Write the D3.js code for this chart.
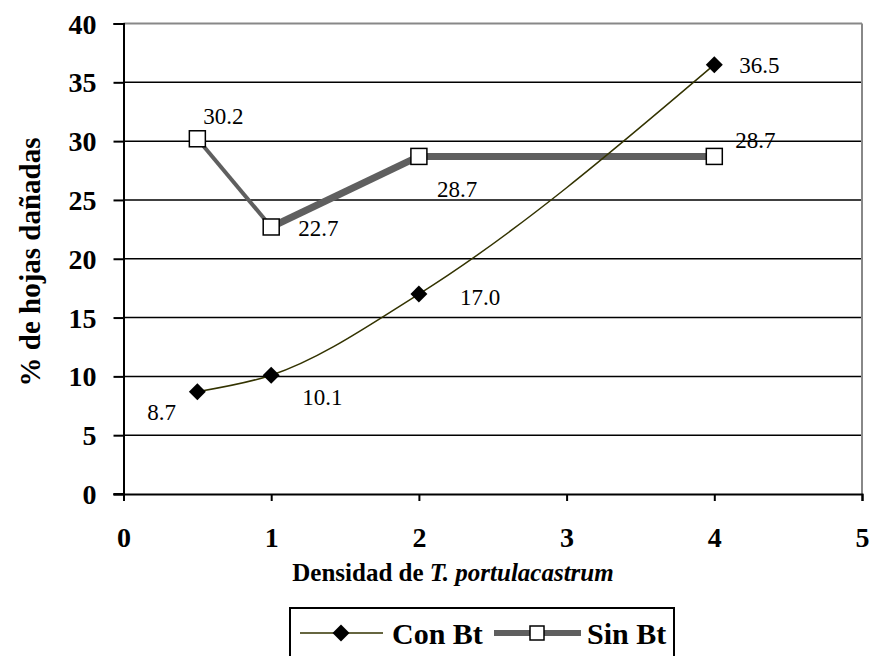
<!DOCTYPE html>
<html><head><meta charset="utf-8">
<script src="https://cdn.jsdelivr.net/npm/d3@7"></script>
<style>
body{margin:0;background:#fff;}
svg{display:block;}
svg text{font-family:"Liberation Serif","Times New Roman",serif !important;}
</style></head>
<body>
<svg id="c" width="873" height="656"></svg>
<script>
const densidad = [0.5, 1, 2, 4];
const conBt = [8.7, 10.1, 17.0, 36.5];
const sinBt = [30.2, 22.7, 28.7, 28.7];
const conBtLabels = ["8.7", "10.1", "17.0", "36.5"];
const sinBtLabels = ["30.2", "22.7", "28.7", "28.7"];
const xTicks = [0, 1, 2, 3, 4, 5];
const yTicks = [0, 5, 10, 15, 20, 25, 30, 35, 40];

const svg = d3.select("#c");
const x = d3.scaleLinear().domain([0, 5]).range([123.5, 862]);
const y = d3.scaleLinear().domain([0, 40]).range([494, 23.5]);

// gridlines
svg.append("g").selectAll("line").data(yTicks.filter(d => d > 0)).join("line")
  .attr("x1", x(0)).attr("x2", x(5)).attr("y1", d => y(d)).attr("y2", d => y(d))
  .attr("stroke", d => d === 40 ? "#888" : "#000").attr("stroke-width", d => d === 40 ? 2 : 1.5);
// right border
svg.append("line").attr("x1", x(5)).attr("x2", x(5)).attr("y1", y(40)).attr("y2", y(0))
  .attr("stroke", "#888").attr("stroke-width", 2);

// y axis
const yAxis = svg.append("g").attr("transform", `translate(${x(0)},0)`)
  .call(d3.axisLeft(y).tickValues(yTicks).tickSize(10).tickPadding(17).tickFormat(d3.format("d")));
yAxis.select(".domain").attr("stroke", "#000").attr("stroke-width", 2);
yAxis.selectAll(".tick line").attr("stroke", "#000").attr("stroke-width", 2);
yAxis.selectAll(".tick text").attr("fill", "#000")
  .attr("font-size", 28).attr("font-weight", "bold").attr("dy", "0.34em");

// x axis
const xAxis = svg.append("g").attr("transform", `translate(0,${y(0)})`)
  .call(d3.axisBottom(x).tickValues(xTicks).tickSize(7).tickPadding(26).tickFormat(d3.format("d")));
xAxis.select(".domain").attr("stroke", "#000").attr("stroke-width", 2);
xAxis.selectAll(".tick line").attr("stroke", "#000").attr("stroke-width", 2);
xAxis.selectAll(".tick text").attr("fill", "#000")
  .attr("font-size", 28).attr("font-weight", "bold");
svg.append("line").attr("x1", x(0) - 10).attr("x2", x(0)).attr("y1", y(0)).attr("y2", y(0))
  .attr("stroke", "#000").attr("stroke-width", 2);

// axis titles
const xt = svg.append("text").attr("x", 453).attr("y", 581).attr("text-anchor", "middle")
  .attr("font-size", 25).attr("font-weight", "bold").attr("fill", "#000");
xt.append("tspan").text("Densidad de ");
xt.append("tspan").attr("font-style", "italic").text("T. portulacastrum");

svg.append("text").attr("transform", "translate(40,262) rotate(-90)").attr("text-anchor", "middle")
  .attr("font-size", 29).attr("font-weight", "bold").attr("fill", "#000").text("% de hojas dañadas");

// Sin Bt series (segments)
const sinPts = densidad.map((d, i) => [x(d), y(sinBt[i])]);
const segW = [4, 7, 7];
svg.append("g").selectAll("line").data(d3.pairs(sinPts)).join("line")
  .attr("x1", d => d[0][0]).attr("y1", d => d[0][1]).attr("x2", d => d[1][0]).attr("y2", d => d[1][1])
  .attr("stroke", "#5f5f5f").attr("stroke-width", (d, i) => segW[i]);

// Con Bt series (smoothed)
const conPts = densidad.map((d, i) => [x(d), y(conBt[i])]);
svg.append("path").attr("d", d3.line().curve(d3.curveMonotoneX)(conPts))
  .attr("fill", "none").attr("stroke", "#333300").attr("stroke-width", 1.5);

// markers
svg.append("g").selectAll("rect").data(sinPts).join("rect")
  .attr("x", d => d[0] - 8).attr("y", d => d[1] - 8).attr("width", 16).attr("height", 16)
  .attr("fill", "#fff").attr("stroke", "#000").attr("stroke-width", 1.5);
const diamond = d3.symbol().type(d3.symbolSquare).size(144);
svg.append("g").selectAll("path").data(conPts).join("path")
  .attr("d", diamond).attr("transform", d => `translate(${d[0]},${d[1]}) rotate(45)`).attr("fill", "#000");

// data labels
const sinOff = [[6, -15], [27, 9], [18, 41], [21, -8]];
const conOff = [[-50, 28], [31, 30], [41, 11], [25, 8]];
svg.append("g").selectAll("text").data(sinPts).join("text")
  .attr("x", (d, i) => d[0] + sinOff[i][0]).attr("y", (d, i) => d[1] + sinOff[i][1])
  .attr("font-size", 23).attr("fill", "#000").text((d, i) => sinBtLabels[i]);
svg.append("g").selectAll("text").data(conPts).join("text")
  .attr("x", (d, i) => d[0] + conOff[i][0]).attr("y", (d, i) => d[1] + conOff[i][1])
  .attr("font-size", 23).attr("fill", "#000").text((d, i) => conBtLabels[i]);

// legend
const lg = svg.append("g");
lg.append("rect").attr("x", 290).attr("y", 608).attr("width", 384).attr("height", 60)
  .attr("fill", "#fff").attr("stroke", "#000").attr("stroke-width", 2);
const ly = 633;
lg.append("line").attr("x1", 300).attr("x2", 383).attr("y1", ly).attr("y2", ly)
  .attr("stroke", "#333300").attr("stroke-width", 1.5);
lg.append("path").attr("d", diamond).attr("transform", `translate(341,${ly}) rotate(45)`).attr("fill", "#000");
lg.append("text").attr("x", 392).attr("y", ly + 11).attr("font-size", 30).attr("font-weight", "bold").text("Con Bt");
lg.append("line").attr("x1", 494).attr("x2", 581).attr("y1", ly).attr("y2", ly)
  .attr("stroke", "#5f5f5f").attr("stroke-width", 6);
lg.append("rect").attr("x", 530).attr("y", ly - 7).attr("width", 14).attr("height", 14)
  .attr("fill", "#fff").attr("stroke", "#000").attr("stroke-width", 1.5);
lg.append("text").attr("x", 587).attr("y", ly + 11).attr("font-size", 30).attr("font-weight", "bold").text("Sin Bt");
</script>
</body></html>
